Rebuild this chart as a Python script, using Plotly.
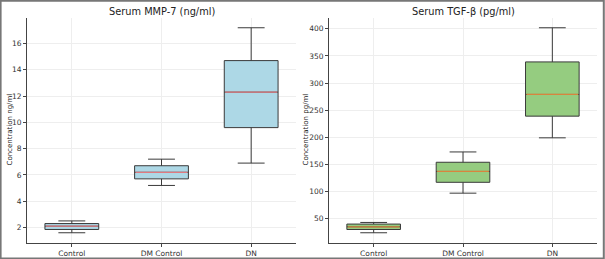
import plotly.graph_objects as go

categories = ["Control", "DM Control", "DN"]

# Serum MMP-7 (ng/ml)
mmp7_low = [1.6, 5.2, 6.9]
mmp7_q1 = [1.85, 5.7, 9.6]
mmp7_median = [2.1, 6.2, 12.3]
mmp7_q3 = [2.3, 6.7, 14.7]
mmp7_high = [2.5, 7.2, 17.2]

# Serum TGF-beta (pg/ml)
tgf_low = [24, 97, 199]
tgf_q1 = [30, 117, 239]
tgf_median = [35, 137, 279]
tgf_q3 = [40, 154, 339]
tgf_high = [43, 173, 402]

W, H = 605, 259
BOX_W = 0.6

def px_x(p):
    return p / W

def px_y(p):
    return 1 - p / H

fig = go.Figure()

xs = list(range(len(categories)))

def add_panel(xa, ya, low, q1, med, q3, high, fill, medcol):
    fig.add_trace(go.Box(
        x=xs, q1=q1, median=med, q3=q3, lowerfence=low, upperfence=high,
        width=BOX_W, whiskerwidth=0.5, fillcolor=fill,
        line=dict(color="#3a3a3a", width=1), boxpoints=False,
        xaxis=xa, yaxis=ya, showlegend=False, hoverinfo="skip"))
    mx, my = [], []
    for i, m in zip(xs, med):
        mx += [i - BOX_W / 2 + 0.01, i + BOX_W / 2 - 0.01, None]
        my += [m, m, None]
    fig.add_trace(go.Scatter(x=mx, y=my, mode="lines",
                             line=dict(color=medcol, width=1.2),
                             xaxis=xa, yaxis=ya, showlegend=False,
                             hoverinfo="skip"))

add_panel("x", "y", mmp7_low, mmp7_q1, mmp7_median, mmp7_q3, mmp7_high,
          "#add8e6", "#e07a80")
add_panel("x2", "y2", tgf_low, tgf_q1, tgf_median, tgf_q3, tgf_high,
          "#95cc80", "#d9843e")

def mrange(lo, hi):
    a, b = min(lo), max(hi)
    m = 0.05 * (b - a)
    return [a - m, b + m]

ydom = [px_y(243), px_y(17.5)]
axis_common = dict(showline=True, linecolor="#444", linewidth=1,
                   ticks="outside", ticklen=3, tickcolor="#444",
                   tickfont=dict(family="DejaVu Sans", size=7.5, color="#333"),
                   showgrid=True, gridcolor="#eeeeee", gridwidth=0.8,
                   zeroline=False, automargin=False, mirror=False)

fig.update_layout(
    width=W, height=H, margin=dict(l=0, r=0, t=0, b=0),
    plot_bgcolor="white", paper_bgcolor="white", boxmode="overlay",
    xaxis=dict(domain=[px_x(27), px_x(296)], range=[-0.5, 2.5],
               tickvals=xs, ticktext=categories, anchor="y", **axis_common),
    yaxis=dict(domain=ydom, range=mrange(mmp7_low, mmp7_high), dtick=2,
               anchor="x", **axis_common),
    xaxis2=dict(domain=[px_x(329), px_x(597)], range=[-0.5, 2.5],
                tickvals=xs, ticktext=categories, anchor="y2", **axis_common),
    yaxis2=dict(domain=ydom, range=mrange(tgf_low, tgf_high), dtick=50,
                anchor="x2", **axis_common),
    font=dict(family="DejaVu Sans", color="#333"),
)

anns = [
    dict(text="Serum MMP-7 (ng/ml)", x=px_x(161.5), y=px_y(11.5), size=9.8, angle=0),
    dict(text="Serum TGF-β (pg/ml)", x=px_x(463), y=px_y(11.5), size=9.8, angle=0),
    dict(text="Concentration ng/ml", x=px_x(9.5), y=px_y(130), size=7, angle=-90),
    dict(text="Concentration pg/ml", x=px_x(305.5), y=px_y(130), size=7, angle=-90),
]
for a in anns:
    fig.add_annotation(text=a["text"], x=a["x"], y=a["y"], xref="paper",
                       yref="paper", showarrow=False, textangle=a["angle"],
                       xanchor="center", yanchor="middle",
                       font=dict(family="DejaVu Sans", size=a["size"], color="#222"))

fig.add_shape(type="rect", xref="paper", yref="paper", x0=0.001, y0=0.002,
              x1=0.998, y1=0.997, line=dict(color="#777", width=2))

fig.write_html("out.html", config={"displayModeBar": False},
               post_script="document.body.style.margin='0';"
                           "document.body.style.overflow='hidden';")
